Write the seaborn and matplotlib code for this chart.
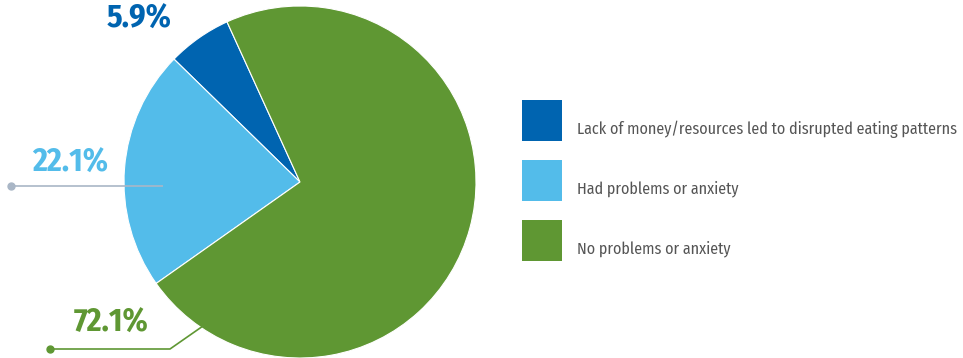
import matplotlib
matplotlib.use("Agg")
import matplotlib.pyplot as plt
from matplotlib.patches import Rectangle
from matplotlib import font_manager
import seaborn as sns

categories = ["Lack of money/resources led to disrupted eating patterns",
              "Had problems or anxiety",
              "No problems or anxiety"]
values = [5.9, 22.1, 72.1]
value_labels = ["5.9%", "22.1%", "72.1%"]
colors = ["#0064B0", "#53BCEA", "#5F9733"]

sns.set_theme(style="white")
names = {f.name for f in font_manager.fontManager.ttflist}
fam = "Fira Sans Condensed" if "Fira Sans Condensed" in names else "DejaVu Sans"
plt.rcParams["font.family"] = [fam, "DejaVu Sans"]

W, H = 963, 358
fig = plt.figure(figsize=(W / 100, H / 100), dpi=100)
ax = fig.add_axes([0, 0, 1, 1])
renderer = fig.canvas.get_renderer()

def Y(py):
    return H - py

def fit_size(text, target_px, base=12, **kw):
    t = fig.text(0, 0, text, fontsize=base, **kw)
    w = t.get_window_extent(renderer).width
    t.remove()
    return base * target_px / w

cx, cy, r = 300, Y(182), 176
ax.pie(values, colors=colors, startangle=114.5, counterclock=True,
       center=(cx, cy), radius=r, frame=True,
       wedgeprops=dict(edgecolor="white", linewidth=0.8))
ax.set_xlim(0, W)
ax.set_ylim(0, H)
ax.set_aspect("equal")
ax.axis("off")

# labels
pct_size = fit_size(value_labels[1], 76, fontweight="bold")
ax.text(139, Y(19), value_labels[0], color=colors[0], fontsize=pct_size, fontweight="bold",
        ha="center", va="center")
ax.text(70, Y(163), value_labels[1], color=colors[1], fontsize=pct_size, fontweight="bold",
        ha="center", va="center")
ax.text(111, Y(323), value_labels[2], color=colors[2], fontsize=pct_size, fontweight="bold",
        ha="center", va="center")

# leader lines
ax.plot([11, 163], [Y(186), Y(186)], color="#A9B6C6", lw=1.2, solid_capstyle="butt")
ax.plot([11], [Y(186)], "o", color="#A9B6C6", ms=5)
ax.plot([50, 170, 203], [Y(349), Y(349), Y(326)], color=colors[2], lw=1.2)
ax.plot([50], [Y(349)], "o", color=colors[2], ms=5)

# legend
leg_size = fit_size(categories[0], 383)
tops = [100, 160, 220]
for top, col, lab in zip(tops, colors, categories):
    ax.add_patch(Rectangle((522, Y(top + 41)), 40, 41, facecolor=col, edgecolor="none"))
    ax.text(577, Y(top + 29), lab, color="#555555", fontsize=leg_size, ha="left", va="center")

fig.savefig("out.png", dpi=100)
